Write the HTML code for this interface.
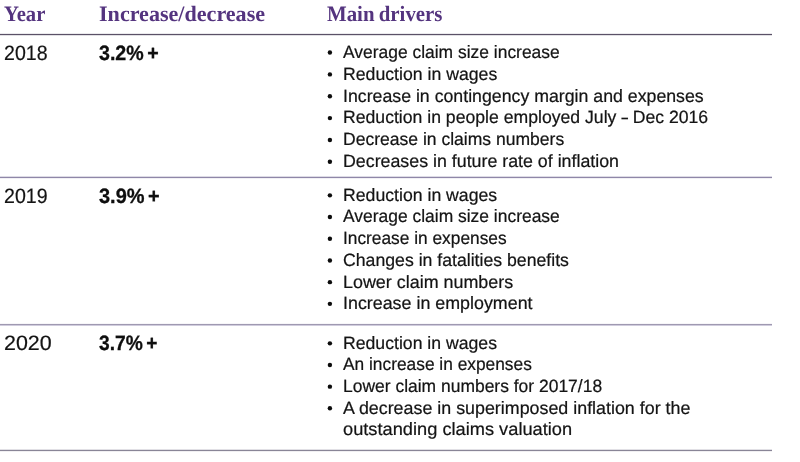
<!DOCTYPE html>
<html lang="en">
<head>
<meta charset="utf-8">
<title>Premium rate changes</title>
<style>
html,body{margin:0;padding:0;background:#fff}
body{width:800px;height:462px;position:relative;overflow:hidden;font-family:"Liberation Sans",sans-serif;color:#141414}
table,thead,tbody,tr,th,td,ul,li{display:block;margin:0;padding:0;border:0;list-style:none;font-weight:normal;text-align:left}
.t{position:absolute;left:0;top:0;width:800px;height:462px;will-change:opacity}
.x{position:absolute;white-space:nowrap;line-height:1;transform-origin:0 0;text-rendering:geometricPrecision}
th.x{font-family:"Liberation Serif",serif;font-weight:bold;font-size:22px;color:#54347f;word-spacing:-1px}
.y{font-size:20.8px;-webkit-text-stroke:0.2px #141414}
.p{font-size:20.8px;font-weight:bold;color:#0e0e0e;word-spacing:-2px;-webkit-text-stroke:0.3px #0e0e0e}
li.x{font-size:17.8px;-webkit-text-stroke:0.22px #141414}
.s{position:absolute;left:0;top:0;fill:#0c0c0c}
.r{position:absolute;left:0;width:772px;height:1px}
.d{display:inline-block;width:.37em;transform:scaleX(.66);transform-origin:0 50%}
</style>
</head>
<body>
<table class="t">
<thead><tr>
<th class="x" id="h1" style="left:3.84px;top:3.00px;transform:scaleX(0.9394)">Year</th>
<th class="x" id="h2" style="left:99.25px;top:3.00px;transform:scaleX(1.0043)">Increase/decrease</th>
<th class="x" id="h3" style="left:326.94px;top:3.00px;transform:scaleX(0.9479)">Main drivers</th>
</tr></thead>
<tbody>
<tr>
<td class="x y" id="y0" style="left:3.51px;top:44.00px;transform:scaleX(0.9405)">2018</td>
<td class="x p" id="p0" style="left:99.00px;top:44.00px;transform:scaleX(0.9435)">3.2% +</td>
<td><ul>
<li class="x" id="l0_0" style="left:342.70px;top:44.00px;transform:scaleX(0.9804)">Average claim size increase</li>
<li class="x" id="l0_1" style="left:343.06px;top:66.00px;transform:scaleX(0.9939)">Reduction in wages</li>
<li class="x" id="l0_2" style="left:342.87px;top:88.00px;transform:scaleX(0.9970)">Increase in contingency margin and expenses</li>
<li class="x" id="l0_3" style="left:343.06px;top:109.00px;transform:scaleX(0.9912)">Reduction in people employed July <span class="d">–</span> Dec 2016</li>
<li class="x" id="l0_4" style="left:343.07px;top:131.00px;transform:scaleX(0.9861)">Decrease in claims numbers</li>
<li class="x" id="l0_5" style="left:343.05px;top:153.00px;transform:scaleX(1.0008)">Decreases in future rate of inflation</li>
</ul></td>
</tr>
<tr>
<td class="x y" id="y1" style="left:3.51px;top:187.00px;transform:scaleX(0.9422)">2019</td>
<td class="x p" id="p1" style="left:98.89px;top:187.00px;transform:scaleX(0.9596)">3.9% +</td>
<td><ul>
<li class="x" id="l1_0" style="left:343.06px;top:187.00px;transform:scaleX(0.9935)">Reduction in wages</li>
<li class="x" id="l1_1" style="left:342.70px;top:208.00px;transform:scaleX(0.9806)">Average claim size increase</li>
<li class="x" id="l1_2" style="left:342.91px;top:230.00px;transform:scaleX(0.9736)">Increase in expenses</li>
<li class="x" id="l1_3" style="left:343.41px;top:252.00px;transform:scaleX(0.9937)">Changes in fatalities benefits</li>
<li class="x" id="l1_4" style="left:343.04px;top:274.00px;transform:scaleX(1.0072)">Lower claim numbers</li>
<li class="x" id="l1_5" style="left:342.86px;top:295.00px;transform:scaleX(1.0041)">Increase in employment</li>
</ul></td>
</tr>
<tr>
<td class="x y" id="y2" style="left:3.82px;top:334.00px;transform:scaleX(1.0316)">2020</td>
<td class="x p" id="p2" style="left:98.90px;top:334.00px;transform:scaleX(0.9243)">3.7% +</td>
<td><ul>
<li class="x" id="l2_0" style="left:343.06px;top:335.00px;transform:scaleX(0.9922)">Reduction in wages</li>
<li class="x" id="l2_1" style="left:342.70px;top:356.00px;transform:scaleX(0.9747)">An increase in expenses</li>
<li class="x" id="l2_2" style="left:343.08px;top:378.00px;transform:scaleX(0.9818)">Lower claim numbers for 2017/18</li>
<li class="x" id="l2_3" style="left:342.70px;top:400.00px;transform:scaleX(1.0041)">A decrease in superimposed inflation for the</li>
<li class="x" id="l2_4" style="left:342.84px;top:421.00px;transform:scaleX(1.0257)">outstanding claims valuation</li>
</ul></td>
</tr>
</tbody></table>
<svg class="s" width="800" height="462" viewBox="0 0 800 462" aria-hidden="true">
<circle cx="329.9" cy="52.55" r="2.2"/>
<circle cx="329.9" cy="74.40" r="2.2"/>
<circle cx="329.9" cy="96.25" r="2.2"/>
<circle cx="329.9" cy="118.10" r="2.2"/>
<circle cx="329.9" cy="139.95" r="2.2"/>
<circle cx="329.9" cy="161.80" r="2.2"/>
<circle cx="329.9" cy="195.35" r="2.2"/>
<circle cx="329.9" cy="217.05" r="2.2"/>
<circle cx="329.9" cy="238.75" r="2.2"/>
<circle cx="329.9" cy="260.45" r="2.2"/>
<circle cx="329.9" cy="282.15" r="2.2"/>
<circle cx="329.9" cy="303.85" r="2.2"/>
<circle cx="329.9" cy="343.35" r="2.2"/>
<circle cx="329.9" cy="365.00" r="2.2"/>
<circle cx="329.9" cy="386.65" r="2.2"/>
<circle cx="329.9" cy="408.30" r="2.2"/>
</svg>
<i class="r" style="top:34px;background:#5a5167;box-shadow:0 -1px 0 rgba(90,81,103,.12),0 1px 0 rgba(90,81,103,.18)"></i>
<i class="r" style="top:177px;background:#8f87a8;box-shadow:0 -1px 0 rgba(143,135,168,.3),0 1px 0 rgba(143,135,168,.12)"></i>
<i class="r" style="top:324px;background:#9f99b1;box-shadow:0 1px 0 rgba(150,143,180,.45),0 -1px 0 rgba(150,143,180,.08)"></i>
<i class="r" style="top:450px;background:#898597;box-shadow:0 -1px 0 rgba(137,133,151,.25),0 1px 0 rgba(137,133,151,.12)"></i>
</body>
</html>
